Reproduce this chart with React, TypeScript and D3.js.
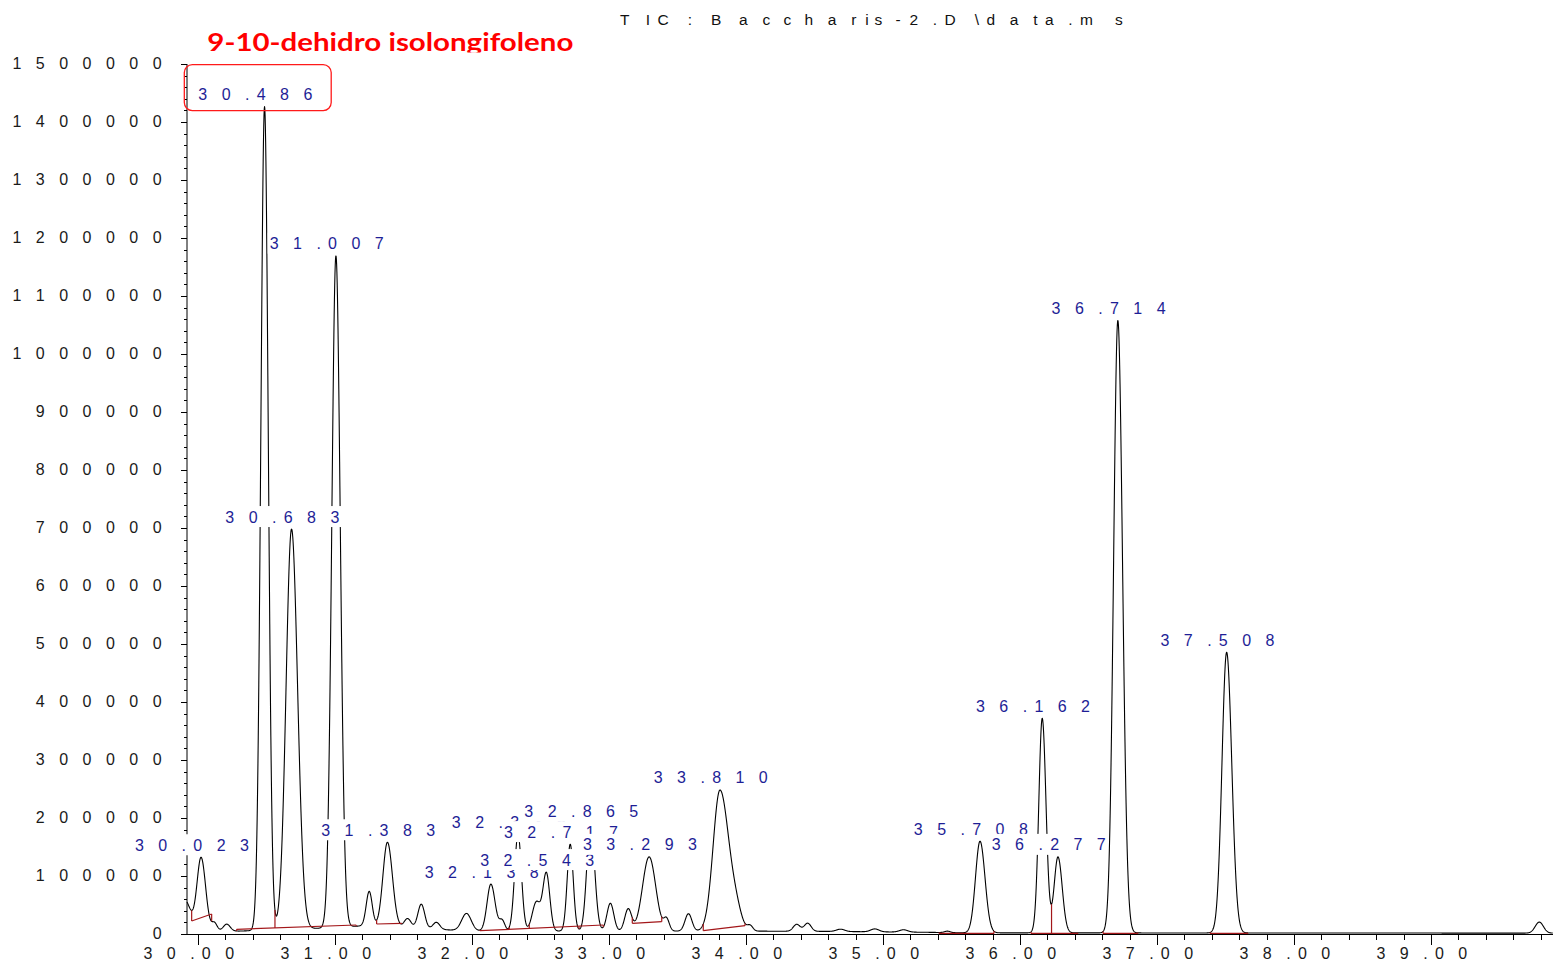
import React from "react";
import * as d3 from "d3";

const W = 1555;
const H = 964;

// Plot frame
const plotLeft = 187;
const plotRight = 1553;
const plotTop = 64;
const plotBottom = 934;
const timeStart = 29.92;
const timeEnd = 39.89;

// Peak table: retention time (min), height above background (counts), width sigma (min), tailing factor
const peakTimes = [
  29.9, 30.023, 30.12, 30.21, 30.486, 30.683, 31.007, 31.25, 31.383, 31.53, 31.63, 31.74, 31.96,
  32.138, 32.22, 32.336, 32.47, 32.543, 32.717, 32.865, 33.01, 33.14, 33.293, 33.42, 33.58,
  33.81, 33.93, 34.03, 34.37, 34.45, 34.69, 34.94, 35.15, 35.47, 35.708, 36.162, 36.277,
  36.714, 37.508, 39.79,
];
const peakHeights = [
  55000, 126000, 14000, 12000, 1420000, 690000, 1158000, 60000, 146000, 16000, 42000, 12000, 30000,
  81000, 18000, 167000, 50000, 99000, 150000, 186000, 48000, 38000, 128000, 20000, 30000,
  243000, 25000, 9000, 12000, 14000, 4000, 5000, 4000, 2500, 158000, 370000, 131000,
  1056000, 484000, 19000,
];
const peakWidths = [
  0.045, 0.03, 0.02, 0.025, 0.027, 0.04, 0.03, 0.022, 0.033, 0.025, 0.025, 0.025, 0.035,
  0.028, 0.02, 0.025, 0.03, 0.025, 0.022, 0.027, 0.025, 0.025, 0.048, 0.02, 0.025,
  0.05, 0.04, 0.02, 0.025, 0.025, 0.03, 0.03, 0.03, 0.02, 0.033, 0.025, 0.028,
  0.031, 0.034, 0.03,
];
const peakTailing = [
  1, 1.1, 1, 1, 1, 1.1, 1.05, 1, 1.1, 1, 1, 1, 1,
  1.1, 1, 1, 1, 1, 1, 1.1, 1, 1, 1, 1, 1,
  1.3, 1, 1, 1, 1, 1, 1, 1, 1, 1.1, 1.1, 1.1,
  1.1, 1.1, 1,
];

// Retention times printed above integrated peaks
const labeledTimes = [
  30.023, 30.486, 30.683, 31.007, 31.383, 32.138, 32.336, 32.543, 32.717, 32.865, 33.293,
  33.81, 35.708, 36.162, 36.277, 36.714, 37.508,
];

// Detector background level
const backgroundTimes = [29.9, 30.3, 30.9, 31.2, 31.5, 32.0, 34.0, 34.6, 35.3, 35.6, 39.9];
const backgroundLevels = [5000, 5000, 10000, 14000, 11000, 5000, 5000, 4500, 3000, 2000, 1500];

// Integration baselines (start/end time and level) and drop lines between split peaks
const baseStartTimes = [29.954, 30.282, 31.304, 32.058, 33.17, 33.688, 35.409, 36.08, 36.606, 37.387];
const baseStartLevels = [22400, 8100, 17200, 5700, 18400, 5700, 1000, 1000, 1000, 1000];
const baseEndTimes = [30.1, 31.155, 31.487, 32.958, 33.385, 33.993, 35.81, 36.423, 36.861, 37.664];
const baseEndLevels = [34500, 15500, 18400, 15500, 21200, 14300, 1000, 1000, 1000, 1000];
const dropTimes = [30.562, 32.272, 32.418, 32.781, 36.23];

// Axis ticks
const yTickValues = d3.range(0, 1500001, 100000);
const yMinorValues = d3.range(0, 1500001, 20000);
const xTickLabels = ["30.00", "31.00", "32.00", "33.00", "34.00", "35.00", "36.00", "37.00", "38.00", "39.00"];
const xMinorValues = d3.range(30, 39.81, 0.2);

const titleText = "TIC: Baccharis-2.D\\data.ms";
const compoundNote = "9-10-dehidro isolongifoleno";

const LABEL_FONT = "'Liberation Sans', Arial, sans-serif";
const measureCtx =
  typeof document !== "undefined" ? document.createElement("canvas").getContext("2d") : null;

function advances(s: string): number[] {
  if (!measureCtx) return [...s].map(() => 7.8);
  measureCtx.font = "14px 'Liberation Sans'";
  return [...s].map((ch) => measureCtx.measureText(ch).width);
}

// Stretched text: every character advance is widened three times
function spread(s: string, startX: number) {
  const adv = advances(s);
  let cx = startX;
  const xs = adv.map((a) => {
    const p = cx;
    cx += a * 3;
    return p;
  });
  const inkRight = xs[xs.length - 1] + adv[adv.length - 1];
  return { xs, inkRight };
}

function fullWidth(s: string) {
  return d3.sum(advances(s)) * 3;
}

const bg = d3.scaleLinear().domain(backgroundTimes).range(backgroundLevels).clamp(true);

function signal(t: number) {
  let v = bg(t);
  for (let i = 0; i < peakTimes.length; i++) {
    const s = t < peakTimes[i] ? peakWidths[i] : peakWidths[i] * peakTailing[i];
    const z = (t - peakTimes[i]) / s;
    if (Math.abs(z) < 9) v += peakHeights[i] * Math.exp(-0.5 * z * z);
  }
  return v;
}

function StretchText(props: { text: string; x0: number; y: number; fill: string; size?: number }) {
  const { xs } = spread(props.text, props.x0);
  return (
    <text
      x={xs.join(" ")}
      y={props.y}
      fill={props.fill}
      fontFamily={LABEL_FONT}
      fontSize={props.size ?? 16}
      xmlSpace="preserve"
    >
      {props.text}
    </text>
  );
}

export default function App() {
  const x = d3.scaleLinear().domain([timeStart, timeEnd]).range([plotLeft, plotRight]);
  const y = d3.scaleLinear().domain([0, 1500000]).range([plotBottom, plotTop]);

  const samples = d3.range(timeStart, timeEnd, 0.002).map((t) => ({ t, v: signal(t) }));
  const tracePath = d3
    .line<{ t: number; v: number }>()
    .x((d) => x(d.t))
    .y((d) => y(d.v))(samples) as string;

  const baseColor = "#a3171a";
  const labelBlue = "#1e1e96";

  const labels = labeledTimes.map((rt) => {
    let apex = 0;
    for (let t = rt - 0.01; t <= rt + 0.01; t += 0.0005) apex = Math.max(apex, signal(t));
    const text = rt.toFixed(3);
    const left = x(rt) - fullWidth(text) / 2 - 2;
    const sp = spread(text, left);
    const apexY = y(apex);
    return { rt, text, left, right: sp.inkRight, apexY };
  });

  const highlight = labels.find((l) => l.rt === 30.486)!;
  const boxL = highlight.left - 14;
  const boxR = highlight.right + 20;
  const boxT = highlight.apexY - 42;
  const boxB = highlight.apexY + 4;

  const titleLeft = (plotLeft + plotRight) / 2 + 8 - fullWidth(titleText) / 2;

  return (
    <svg width={W} height={H} style={{ position: "absolute", left: 0, top: 0, background: "#fff" }}>
      <defs>
        <clipPath id="noteClip">
          <rect x={0} y={0} width={W} height={boxT - 12} />
        </clipPath>
      </defs>
      <rect x={0} y={0} width={W} height={H} fill="#fff" />

      {/* title */}
      <StretchText text={titleText} x0={titleLeft} y={24.5} fill="#111" size={15.5} />

      {/* axes */}
      <line x1={plotLeft} x2={plotLeft} y1={plotTop} y2={plotBottom} stroke="#000" strokeWidth={1} />
      <line x1={plotLeft - 4} x2={plotRight} y1={plotBottom + 0.5} y2={plotBottom + 0.5} stroke="#000" strokeWidth={1} />
      {yMinorValues.map((v) => {
        const major = v % 100000 === 0;
        return (
          <line
            key={"ym" + v}
            x1={plotLeft - (major ? 6 : 3)}
            x2={plotLeft}
            y1={Math.round(y(v)) + 0.5}
            y2={Math.round(y(v)) + 0.5}
            stroke="#000"
          />
        );
      })}
      {yTickValues.map((v) => {
        const s = String(v);
        return (
          <StretchText
            key={"yl" + v}
            text={s}
            x0={plotLeft - 11 - fullWidth(s)}
            y={y(v) + 5}
            fill="#1a1a1a"
          />
        );
      })}
      {xMinorValues.map((t, i) => {
        const major = i % 5 === 0;
        return (
          <line
            key={"xm" + i}
            x1={Math.round(x(t)) + 0.5}
            x2={Math.round(x(t)) + 0.5}
            y1={plotBottom}
            y2={plotBottom + (major ? 11 : 6)}
            stroke="#000"
          />
        );
      })}
      {xTickLabels.map((s) => {
        const tx = x(parseFloat(s));
        return (
          <StretchText key={"xl" + s} text={s} x0={tx - fullWidth(s) / 2 - 2} y={958.5} fill="#1a1a1a" />
        );
      })}

      {/* chromatogram */}
      <path d={tracePath} fill="none" stroke="#000" strokeWidth={1.1} strokeLinejoin="round" />

      {/* integration baselines */}
      {baseStartTimes.map((t0, i) => {
        const t1 = baseEndTimes[i];
        return (
          <g key={"b" + i} stroke={baseColor} strokeWidth={1.2}>
            <line x1={x(t0)} y1={y(baseStartLevels[i])} x2={x(t1)} y2={y(baseEndLevels[i])} />
            <line x1={x(t0)} y1={y(signal(t0))} x2={x(t0)} y2={y(baseStartLevels[i])} />
            <line x1={x(t1)} y1={y(signal(t1))} x2={x(t1)} y2={y(baseEndLevels[i])} />
          </g>
        );
      })}
      {dropTimes.map((t) => {
        const i = baseStartTimes.findIndex((s, k) => s <= t && baseEndTimes[k] >= t);
        const lvl = d3
          .scaleLinear()
          .domain([baseStartTimes[i], baseEndTimes[i]])
          .range([baseStartLevels[i], baseEndLevels[i]])(t);
        return (
          <line key={"d" + t} x1={x(t)} x2={x(t)} y1={y(signal(t))} y2={y(lvl)} stroke={baseColor} strokeWidth={1.2} />
        );
      })}

      {/* retention time labels */}
      {labels.map((l) => (
        <g key={"lab" + l.rt}>
          <rect x={l.left - 2} y={l.apexY - 23} width={l.right - l.left + 5} height={21} fill="#fff" />
          <StretchText text={l.text} x0={l.left} y={l.apexY - 6.5} fill={labelBlue} />
        </g>
      ))}

      {/* highlighted compound */}
      <rect
        x={boxL}
        y={boxT}
        width={boxR - boxL}
        height={boxB - boxT}
        rx={8}
        ry={8}
        fill="none"
        stroke="#ff1a1a"
        strokeWidth={1.3}
      />
      <g clipPath="url(#noteClip)">
        <text
          x={boxL + 23}
          y={boxT - 14}
          fill="#ff0000"
          fontFamily="Lato, 'Open Sans', sans-serif"
          fontWeight={700}
          fontSize={25}
          textLength={366}
          lengthAdjust="spacingAndGlyphs"
        >
          {compoundNote}
        </text>
      </g>
    </svg>
  );
}
